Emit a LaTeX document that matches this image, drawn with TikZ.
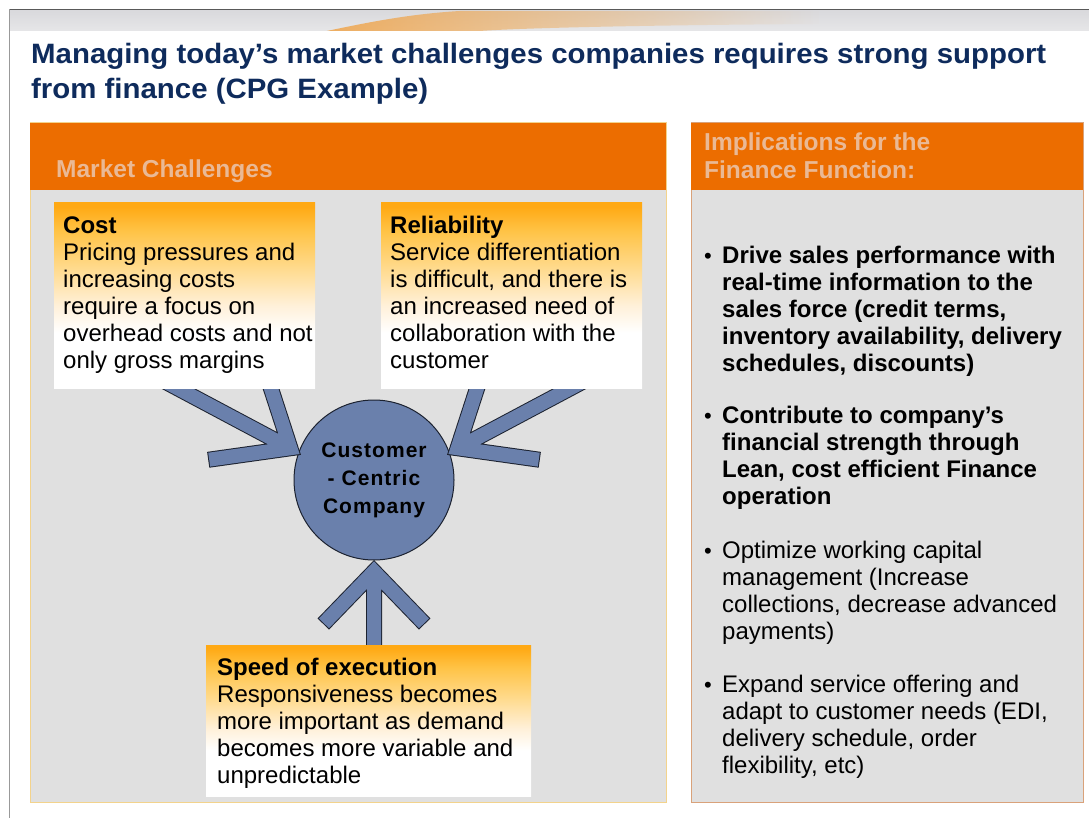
\documentclass[tikz,border=0pt]{standalone}
\usepackage{fontspec}
\setmainfont{Liberation Sans}
\newfontfamily\circfont[LetterSpace=5]{Liberation Sans}
\newfontfamily\titlefont[FakeStretch=1.05]{Liberation Sans}
\usetikzlibrary{calc,fadings}

\definecolor{hdrorange}{HTML}{EC6D00}
\definecolor{hdrtext}{HTML}{EAB995}
\definecolor{panelgray}{HTML}{E0E0E0}
\definecolor{leftrim}{HTML}{F3D38C}
\definecolor{rightrim}{HTML}{D9A27A}
\definecolor{titlenavy}{HTML}{0E2B5C}
\definecolor{hubblue}{HTML}{6A80AC}
\definecolor{hubline}{HTML}{1C2230}
\definecolor{bannergray}{HTML}{D9D9DC}
\definecolor{bannerlight}{HTML}{E6E6E8}
\definecolor{swoosh}{HTML}{F0A040}
\definecolor{gA}{HTML}{FFA914}
\definecolor{gB}{HTML}{FFC346}
\definecolor{gC}{HTML}{FFDA8C}
\definecolor{gD}{HTML}{FFF0D8}

% vertical fade used by the three challenge boxes (path maps to 25bp..75bp)
\pgfdeclareverticalshading{challengefade}{100bp}{%
  color(0bp)=(white); color(40bp)=(white); color(47.5bp)=(gD);
  color(57.5bp)=(gC); color(67.5bp)=(gB); color(74bp)=(gA); color(100bp)=(gA)}

\tikzset{
  panel/.style={fill=panelgray, line width=1pt},
  panelhead/.style={fill=hdrorange},
  headtext/.style={anchor=base west, inner sep=0pt, text=hdrtext,
    font=\fontsize{24.5}{28}\selectfont\bfseries},
  challenge/.style={shading=challengefade},
  bodytext/.style={anchor=north west, inner sep=0pt, align=left,
    font=\fontsize{24}{27}\selectfont},
  bullettext/.style={anchor=north west, inner sep=0pt, align=left,
    font=\fontsize{24}{27}\selectfont},
  bulletdot/.style={anchor=north west, inner sep=0pt,
    font=\fontsize{22}{27}\selectfont},
  hub/.style={circle, minimum size=160pt, inner sep=0pt, fill=hubblue,
    draw=hubline, line width=1pt, align=center,
    font=\circfont\fontsize{21}{28}\selectfont\bfseries},
  chevronout/.style={draw=hubline, line width=16pt, line join=miter, line cap=butt},
  chevronin/.style={draw=hubblue, line width=14pt, line join=miter, line cap=butt}
}

\begin{document}
\begin{tikzpicture}[x=1pt,y=-1pt]
\useasboundingbox (0,0) rectangle (1089,818);
\fill[white] (0,0) rectangle (1089,818);

% page frame and banner
\shade[top color=bannergray, bottom color=bannerlight] (10,10) rectangle (1089,31);
\fill[swoosh, path fading=east, opacity=0.8]
  (327,31) .. controls (370,22) and (410,14) .. (460,11) -- (820,11)
  -- (820,24) .. controls (650,25) and (520,28) .. (480,31) -- cycle;
\draw[gray!70!black, line width=1.6pt] (9.5,9.5) -- (1089,9.5);
\draw[gray!80, line width=1pt] (9.5,9.5) -- (9.5,818);

% title
\node[anchor=north west, inner sep=0pt, align=left, text=titlenavy,
  font=\titlefont\fontsize{28}{35}\selectfont\bfseries] (title) at (31,39)
  {\strut Managing today’s market challenges companies requires strong support\\
   \strut from finance (CPG Example)};

% panels
\draw[panel, draw=leftrim] (30,123) rectangle (666,802);
\fill[panelhead] (30,123) rectangle (666,190);
\node[headtext] (mc) at (56,178) {Market Challenges};

\draw[panel, draw=rightrim] (691,123) rectangle (1083,802);
\fill[panelhead] (691,123) rectangle (1083,190);
\node[headtext, align=left, anchor=north west] (impl) at (704,133)
  {Implications for the\\Finance Function:};

% hub
\node[hub] (hub) at (374,480) {Customer\\- Centric\\Company};

% chevron arrows into the hub (outline pass is one point longer at the free ends)
\coordinate (tipL) at ($(hub.160)+(152:9pt)$);
\coordinate (tipR) at ($(hub.20)+(28:9pt)$);
\coordinate (tipB) at ($(hub.270)+(270:11pt)$);
\foreach \st/\e in {chevronout/1, chevronin/0}{
  \pgfmathsetmacro\armA{82+\e}
  \pgfmathsetmacro\armB{72+\e}
  \path[\st] ($(tipL)+(108:\armA pt)$) -- (tipL) -- ($(tipL)+(188:\armA pt)$)
             ($(tipL)+(152:160pt)$) -- (tipL);
  \path[\st] ($(tipR)+(72:\armA pt)$) -- (tipR) -- ($(tipR)+(-8:\armA pt)$)
             ($(tipR)+(28:160pt)$) -- (tipR);
  \path[\st] ($(tipB)+(226:\armB pt)$) -- (tipB) -- ($(tipB)+(314:\armB pt)$)
             ($(tipB)+(270:90pt)$) -- (tipB);
}

% challenge boxes
\path[challenge] (54,203) rectangle (315,388);
\node[bodytext] (cost) at (63,214)
  {\strut\textbf{Cost}\\Pricing pressures and\\increasing costs\\require a focus on\\overhead costs and not\\only gross margins};

\path[challenge] (381,203) rectangle (642,388);
\node[bodytext] (rel) at (390,214)
  {\strut\textbf{Reliability}\\Service differentiation\\is difficult, and there is\\an increased need of\\collaboration with the\\customer};

\path[challenge] (206,645) rectangle (531,796);
\node[bodytext] (speed) at (217,656)
  {\strut\textbf{Speed of execution}\\Responsiveness becomes\\more important as demand\\becomes more variable and\\unpredictable};

% implications list
\node[bulletdot] (b1) at (704,244) {\strut•};
\node[bullettext, font=\fontsize{24}{27}\selectfont\bfseries] (i1) at (722,244)
  {\strut Drive sales performance with\\real-time information to the\\sales force (credit terms,\\inventory availability, delivery\\schedules, discounts)};
\node[bulletdot] (b2) at (704,404) {\strut•};
\node[bullettext, font=\fontsize{24}{27}\selectfont\bfseries] (i2) at (722,404)
  {\strut Contribute to company’s\\financial strength through\\Lean, cost efficient Finance\\operation};
\node[bulletdot] (b3) at (704,539) {\strut•};
\node[bullettext] (i3) at (722,539)
  {\strut Optimize working capital\\management (Increase\\collections, decrease advanced\\payments)};
\node[bulletdot] (b4) at (704,673) {\strut•};
\node[bullettext] (i4) at (722,673)
  {\strut Expand service offering and\\adapt to customer needs (EDI,\\delivery schedule, order\\flexibility, etc)};
\end{tikzpicture}
\end{document}
